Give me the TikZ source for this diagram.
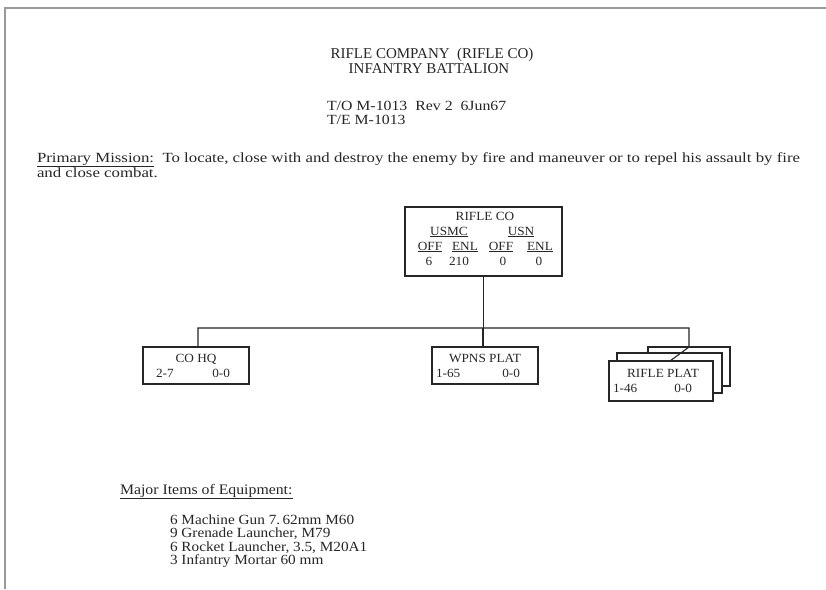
\documentclass[tikz,border=0pt]{standalone}
\usepackage{fontspec}
\setmainfont{Liberation Serif}
\newfontfamily\missionfont[FakeStretch=1.2]{Liberation Serif}
\newfontfamily\equipfont[FakeStretch=1.09]{Liberation Serif}
\newfontfamily\tofont[FakeStretch=1.13]{Liberation Serif}
\newfontfamily\boxfont[FakeStretch=1.06]{Liberation Serif}
\begin{document}
\begin{tikzpicture}[x=1pt,y=-1pt,
  txt/.style={inner sep=0pt, outer sep=0pt, text=black!85},
  ttl/.style={txt, font=\fontsize{15}{18}\selectfont},
  tol/.style={txt, font=\tofont\fontsize{14}{16}\selectfont},
  body/.style={txt, font=\missionfont\fontsize{14}{16}\selectfont},
  equip/.style={txt, font=\equipfont\fontsize{14}{16}\selectfont},
  bx/.style={txt, font=\boxfont\fontsize{12.5}{14}\selectfont},
  orgbox/.style={draw=black!85, line width=1.1pt, fill=white, inner sep=0pt, outer sep=0pt, anchor=north west},
  conn/.style={draw=black!85, line width=1.1pt}
]
\useasboundingbox (0,0) rectangle (826,589);
\fill[white] (0,0) rectangle (826,589);
% page border
\draw[black!40, line width=1.5pt] (5,589) -- (5,8) -- (826,8);

% title
\node[ttl, anchor=base] (t1) at (432,58) {RIFLE COMPANY\ \ (RIFLE CO)};
\node[ttl, anchor=base] (t2) at (429,73) {INFANTRY BATTALION};
\node[tol, anchor=base west] (t3) at (327,110) {T/O M-1013\ \ Rev 2\ \ 6Jun67};
\node[tol, anchor=base west] (t4) at (327,124) {T/E M-1013};

% mission
\node[body, anchor=base west] (m1) at (37,162) {\underline{Primary Mission:}\ \ To locate, close with and destroy the enemy by fire and maneuver or to repel his assault by fire};
\node[body, anchor=base west] (m2) at (37,177) {and close combat.};

% boxes
\node[orgbox, minimum width=157pt, minimum height=69pt] (co) at (405,207) {};
\node[orgbox, minimum width=106pt, minimum height=37pt] (hq) at (143,347) {};
\node[orgbox, minimum width=106pt, minimum height=37pt] (wp) at (432,347) {};
\node[orgbox, minimum width=82pt, minimum height=39pt] (rp3) at (648,347) {};
\node[orgbox, minimum width=105pt, minimum height=40pt] (rp2) at (617,353) {};
\node[orgbox, minimum width=104pt, minimum height=40pt] (rp1) at (609,361) {};

% RIFLE CO contents
\node[bx, anchor=base] (coname) at (485,220) {RIFLE CO};
\node[bx, anchor=base] (usmc) at (449,235) {\underline{USMC}};
\node[bx, anchor=base] (usn) at (521,235) {\underline{USN}};
\node[bx, anchor=base] (off1) at (430,250) {\underline{OFF}};
\node[bx, anchor=base] (enl1) at (465,250) {\underline{ENL}};
\node[bx, anchor=base] (off2) at (501,250) {\underline{OFF}};
\node[bx, anchor=base] (enl2) at (540,250) {\underline{ENL}};
\node[bx, anchor=base] (n1) at (429,265) {6};
\node[bx, anchor=base] (n2) at (459,265) {210};
\node[bx, anchor=base] (n3) at (503,265) {0};
\node[bx, anchor=base] (n4) at (539,265) {0};

% CO HQ
\node[bx, anchor=base] (hqname) at (196,362) {CO HQ};
\node[bx, anchor=base west] (hqa) at (156,377) {2-7};
\node[bx, anchor=base east] (hqb) at (230,377) {0-0};
% WPNS
\node[bx, anchor=base] (wpname) at (485,362) {WPNS PLAT};
\node[bx, anchor=base west] (wpa) at (436,377) {1-65};
\node[bx, anchor=base east] (wpb) at (520,377) {0-0};
% RIFLE PLAT
\node[bx, anchor=base] (rpname) at (663,377) {RIFLE PLAT};
\node[bx, anchor=base west] (rpa) at (613,392) {1-46};
\node[bx, anchor=base east] (rpb) at (692,392) {0-0};

% connectors
\coordinate (hl) at (198,328);
\coordinate (hr) at (689,328);
\draw[conn] (co.south) -- (co.south |- hl);
\draw[conn] ([xshift=2pt]hq.north) -- (hl) -- (hr) -- (hr |- rp3.north) -- ([xshift=9pt]rp1.north);
\draw[conn] ([xshift=-2pt]wp.north) -- ([xshift=-2pt]wp.north |- hl);

% equipment
\node[equip, font=\equipfont\fontsize{14.5}{17}\selectfont, anchor=base west] (eqh) at (120,494) {\underline{Major Items of Equipment:}};
\node[equip, anchor=base west] (e1) at (170,524) {6 Machine Gun 7.\,62mm M60};
\node[equip, anchor=base west] (e2) at (170,537.5) {9 Grenade Launcher, M79};
\node[equip, anchor=base west] (e3) at (170,551) {6 Rocket Launcher, 3.5, M20A1};
\node[equip, anchor=base west] (e4) at (170,564.5) {3 Infantry Mortar 60 mm};
\end{tikzpicture}
\end{document}
